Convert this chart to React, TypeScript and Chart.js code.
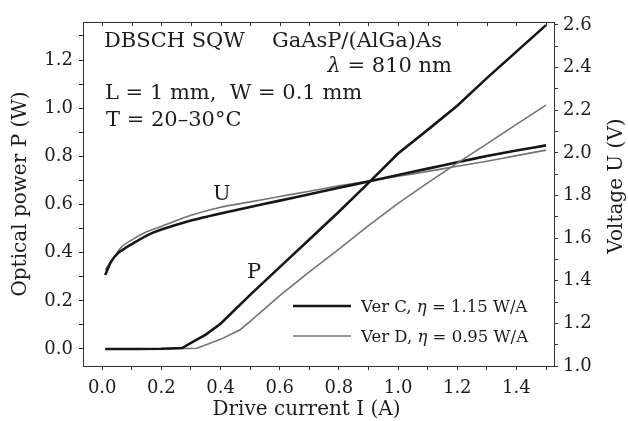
import React, { useEffect, useRef } from 'react';
import { Chart, registerables } from 'chart.js';

Chart.register(...registerables);

// ---- Data ----
// Optical power, version C (black)
const P_C_I = [0.01, 0.1, 0.2, 0.27, 0.3, 0.35, 0.4, 0.5, 0.6, 0.7, 0.8, 0.9, 1.0, 1.1, 1.2, 1.3, 1.4, 1.5];
const P_C_W = [0.0, 0.0, 0.001, 0.004, 0.025, 0.06, 0.105, 0.225, 0.34, 0.455, 0.57, 0.69, 0.812, 0.91, 1.01, 1.125, 1.235, 1.345];
// Optical power, version D (gray)
const P_D_I = [0.01, 0.2, 0.32, 0.4, 0.466, 0.5, 0.6, 0.7, 0.8, 0.9, 1.0, 1.1, 1.2, 1.3, 1.4, 1.5];
const P_D_W = [0.0, 0.0, 0.003, 0.04, 0.08, 0.115, 0.222, 0.32, 0.415, 0.512, 0.605, 0.69, 0.772, 0.852, 0.933, 1.013];
// Voltage, version C (black)
const U_C_I = [0.01, 0.03, 0.055, 0.08, 0.1, 0.15, 0.2, 0.3, 0.4, 0.5, 0.6, 0.7, 0.8, 0.9, 1.0, 1.1, 1.2, 1.3, 1.4, 1.5];
const U_C_V = [1.427, 1.49, 1.532, 1.555, 1.572, 1.612, 1.64, 1.683, 1.716, 1.746, 1.776, 1.806, 1.836, 1.866, 1.896, 1.926, 1.956, 1.985, 2.011, 2.035];
// Voltage, version D (gray)
const U_D_I = [0.01, 0.04, 0.066, 0.1, 0.15, 0.2, 0.3, 0.4, 0.5, 0.6, 0.7, 0.8, 0.9, 1.0, 1.1, 1.2, 1.3, 1.4, 1.5];
const U_D_V = [1.451, 1.51, 1.56, 1.592, 1.63, 1.655, 1.707, 1.745, 1.77, 1.795, 1.82, 1.845, 1.868, 1.89, 1.913, 1.937, 1.961, 1.987, 2.013];

// ---- Ticks ----
const X_TICKS = [0, 0.1, 0.2, 0.3, 0.4, 0.5, 0.6, 0.7, 0.8, 0.9, 1.0, 1.1, 1.2, 1.3, 1.4, 1.5];
const X_LABELS = ['0.0', '', '0.2', '', '0.4', '', '0.6', '', '0.8', '', '1.0', '', '1.2', '', '1.4', ''];
const P_TICKS = [0, 0.1, 0.2, 0.3, 0.4, 0.5, 0.6, 0.7, 0.8, 0.9, 1.0, 1.1, 1.2, 1.3];
const P_LABELS = ['0.0', '', '0.2', '', '0.4', '', '0.6', '', '0.8', '', '1.0', '', '1.2', ''];
const U_TICKS = [1.0, 1.1, 1.2, 1.3, 1.4, 1.5, 1.6, 1.7, 1.8, 1.9, 2.0, 2.1, 2.2, 2.3, 2.4, 2.5, 2.6];
const U_LABELS = ['1.0', '', '1.2', '', '1.4', '', '1.6', '', '1.8', '', '2.0', '', '2.2', '', '2.4', '', '2.6'];

const X_RANGE = [-0.065, 1.527];
const P_RANGE = [-0.0706, 1.358];
const U_RANGE = [1.0, 2.614];

const LEGEND_ITEMS = [
  { pre: 'Ver C, ', sym: 'η', post: ' = 1.15 W/A' },
  { pre: 'Ver D, ', sym: 'η', post: ' = 0.95 W/A' },
];

const FONT = 'DejaVu Serif';
const INK = '#1c1c1c';
const BLACK = '#161616';
const GRAY = '#737373';

const toPts = (xs: number[], ys: number[]) => xs.map((x, i) => ({ x, y: ys[i] }));

function drawRuns(ctx: CanvasRenderingContext2D, runs: [string, boolean][], x: number, y: number, size: number, alignRight = false) {
  let total = 0;
  runs.forEach(([t, it]) => {
    ctx.font = `${it ? 'italic ' : ''}${size}px "${FONT}"`;
    total += ctx.measureText(t).width;
  });
  let cx = alignRight ? x - total : x;
  ctx.textAlign = 'left';
  runs.forEach(([t, it]) => {
    ctx.font = `${it ? 'italic ' : ''}${size}px "${FONT}"`;
    ctx.fillText(t, cx, y);
    cx += ctx.measureText(t).width;
  });
}

const decorPlugin = {
  id: 'decor',
  afterDraw(chart: any) {
    const { ctx, chartArea } = chart;
    const { left, right, top, bottom } = chartArea;
    const xs = chart.scales.x;
    ctx.save();
    // top frame with inward ticks
    ctx.strokeStyle = '#333';
    ctx.lineWidth = 1;
    ctx.beginPath();
    ctx.moveTo(left, top + 0.5);
    ctx.lineTo(right, top + 0.5);
    X_TICKS.forEach((v) => {
      const px = Math.round(xs.getPixelForValue(v)) + 0.5;
      ctx.moveTo(px, top);
      ctx.lineTo(px, top + 4);
    });
    ctx.stroke();

    // annotations
    ctx.fillStyle = INK;
    ctx.textBaseline = 'alphabetic';
    const s = 21;
    drawRuns(ctx, [['DBSCH SQW', false]], left + 21, top + 25, s);
    drawRuns(ctx, [['GaAsP/(AlGa)As', false]], left + 189, top + 25, s);
    drawRuns(ctx, [['λ', true], [' = 810 nm', false]], left + 369, top + 50, s, true);
    drawRuns(ctx, [['L = 1 mm,  W = 0.1 mm', false]], left + 22, top + 77, s);
    drawRuns(ctx, [['T = 20–30°C', false]], left + 23, top + 104, s);
    drawRuns(ctx, [['U', false]], left + 130, top + 178, s);
    drawRuns(ctx, [['P', false]], left + 164, top + 256, s);

    // legend
    const ly = [bottom - 60, bottom - 30];
    LEGEND_ITEMS.forEach((it, i) => {
      ctx.strokeStyle = i === 0 ? BLACK : GRAY;
      ctx.lineWidth = i === 0 ? 2.6 : 1.6;
      ctx.beginPath();
      ctx.moveTo(left + 210, ly[i]);
      ctx.lineTo(left + 268, ly[i]);
      ctx.stroke();
      ctx.fillStyle = INK;
      drawRuns(ctx, [[it.pre, false], [it.sym, true], [it.post, false]], left + 278, ly[i] + 6, 16.5);
    });

    // x axis title
    ctx.font = `20px "${FONT}"`;
    ctx.textAlign = 'center';
    ctx.textBaseline = 'alphabetic';
    ctx.fillStyle = INK;
    ctx.fillText('Drive current I (A)', (left + right) / 2 - 12, bottom + 49);

    // right axis title, reading bottom to top
    ctx.save();
    ctx.translate(right + 63, (top + bottom) / 2 - 8);
    ctx.rotate(-Math.PI / 2);
    ctx.textAlign = 'center';
    ctx.textBaseline = 'middle';
    ctx.fillText('Voltage U (V)', 0, 0);
    ctx.restore();
    ctx.restore();
  },
};

export default function App() {
  const ref = useRef<HTMLCanvasElement | null>(null);
  useEffect(() => {
    if (!ref.current) return;
    Chart.defaults.font.family = FONT;
    Chart.defaults.color = INK;
    const axisCommon = {
      grid: { display: true, drawOnChartArea: false, drawTicks: true, tickLength: 4, tickColor: '#333', tickWidth: 1 },
      border: { display: true, color: '#333', width: 1 },
    };
    const chart = new Chart(ref.current, {
      type: 'line',
      data: {
        datasets: [
          { label: 'P C', data: toPts(P_C_I, P_C_W), borderColor: BLACK, borderWidth: 2.6, yAxisID: 'y', pointRadius: 0, tension: 0 },
          { label: 'P D', data: toPts(P_D_I, P_D_W), borderColor: GRAY, borderWidth: 1.6, yAxisID: 'y', pointRadius: 0, tension: 0 },
          { label: 'U C', data: toPts(U_C_I, U_C_V), borderColor: BLACK, borderWidth: 2.6, yAxisID: 'y1', pointRadius: 0, tension: 0.2 },
          { label: 'U D', data: toPts(U_D_I, U_D_V), borderColor: GRAY, borderWidth: 1.6, yAxisID: 'y1', pointRadius: 0, tension: 0.2 },
        ],
      },
      options: {
        responsive: false,
        animation: false,
        layout: { padding: { top: 22, left: 0, right: 0, bottom: 0 } },
        plugins: { legend: { display: false }, tooltip: { enabled: false }, title: { display: false } },
        scales: {
          x: {
            type: 'linear',
            position: 'bottom',
            min: X_RANGE[0],
            max: X_RANGE[1],
            ...axisCommon,
            afterBuildTicks: (sc: any) => { sc.ticks = X_TICKS.map((v) => ({ value: v })); },
            afterFit: (sc: any) => { sc.height = 55; },
            ticks: { autoSkip: false, maxRotation: 0, padding: 8, font: { size: 18, family: FONT }, color: INK, callback: (_v: any, i: number) => X_LABELS[i] },
          },
          y: {
            type: 'linear',
            position: 'left',
            min: P_RANGE[0],
            max: P_RANGE[1],
            ...axisCommon,
            afterBuildTicks: (sc: any) => { sc.ticks = P_TICKS.map((v) => ({ value: v })); },
            afterFit: (sc: any) => { sc.width = 83; },
            ticks: { autoSkip: false, padding: 6, font: { size: 18, family: FONT }, color: INK, callback: (_v: any, i: number) => P_LABELS[i] },
            title: { display: true, text: 'Optical power P (W)', font: { size: 20, family: FONT }, color: INK, padding: { top: 9, bottom: 0 } },
          },
          y1: {
            type: 'linear',
            position: 'right',
            min: U_RANGE[0],
            max: U_RANGE[1],
            ...axisCommon,
            afterBuildTicks: (sc: any) => { sc.ticks = U_TICKS.map((v) => ({ value: v })); },
            afterFit: (sc: any) => { sc.width = 74; },
            ticks: { autoSkip: false, padding: 5, font: { size: 18, family: FONT }, color: INK, callback: (_v: any, i: number) => U_LABELS[i] },
          },
        },
      },
      plugins: [decorPlugin],
    } as any);
    return () => chart.destroy();
  }, []);
  return (
    <div style={{ position: 'fixed', left: 0, top: 0, width: 628, height: 421, background: '#fff' }}>
      <canvas ref={ref} width={628} height={421} style={{ display: 'block', width: 628, height: 421 }} />
    </div>
  );
}
